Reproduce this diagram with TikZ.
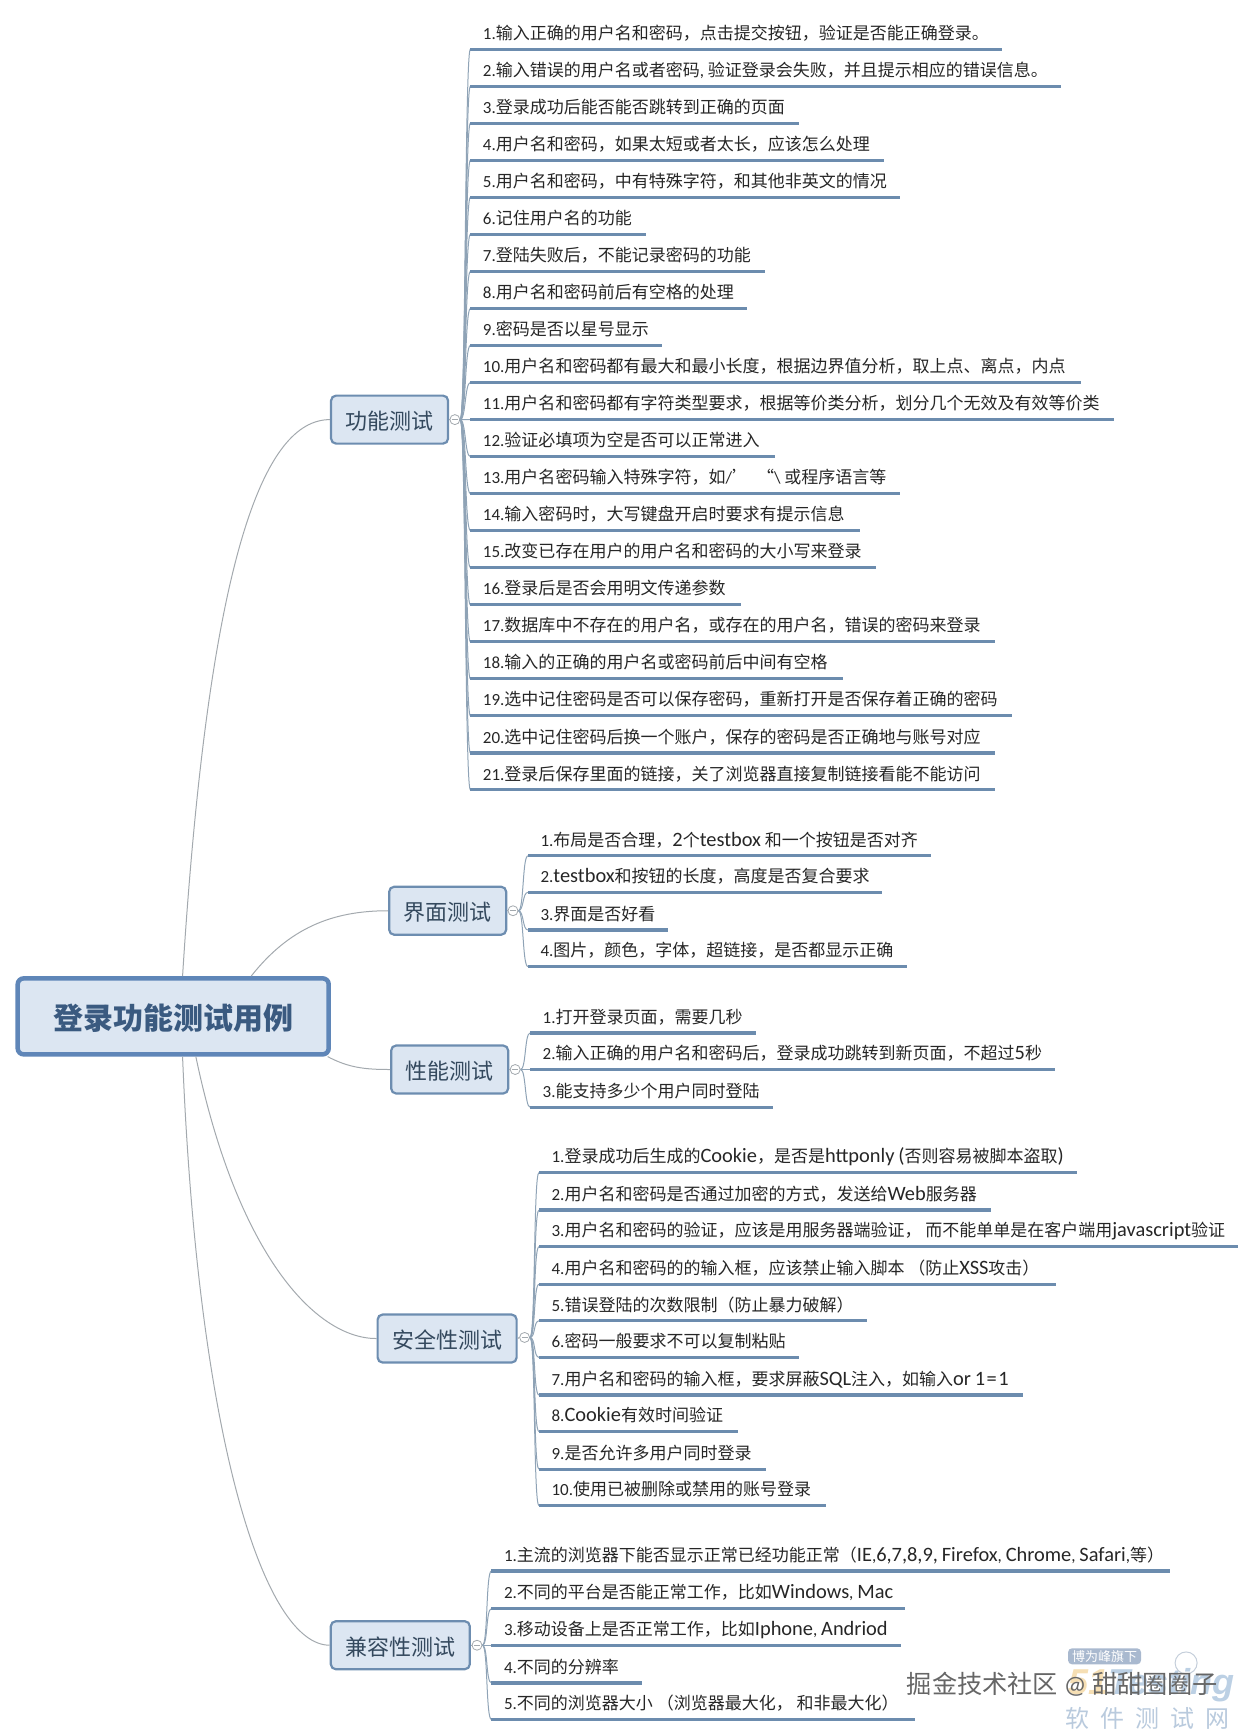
\documentclass[tikz,border=0pt]{standalone}
\usepackage{fontspec}
\setmainfont{Carlito}
\newfontfamily\cjkf{Noto Sans CJK SC}
\newfontfamily\latf{Carlito}
\newfontfamily\letf[Scale=1.2]{Carlito}
\newfontfamily\logof{Liberation Sans}
\XeTeXinterchartokenstate=1
\newXeTeXintercharclass\cjkclass
\newXeTeXintercharclass\letclass
\newcount\cc
\def\setcls#1#2#3{\cc=#1 \loop\XeTeXcharclass\cc=#3 \advance\cc 1 \ifnum\cc<#2 \repeat}
\setcls{"3000}{"3040}{\cjkclass}
\setcls{"4E00}{"A000}{\cjkclass}
\setcls{"FF00}{"FFF0}{\cjkclass}
\setcls{"2018}{"201E}{\cjkclass}
\setcls{"41}{"5B}{\letclass}
\setcls{"61}{"7B}{\letclass}
\XeTeXinterchartoks 0 \cjkclass={\cjkf}
\XeTeXinterchartoks 4095 \cjkclass={\cjkf}
\XeTeXinterchartoks \cjkclass 0={\latf}
\XeTeXinterchartoks \cjkclass 4095={\latf}
\XeTeXinterchartoks 0 \letclass={\letf}
\XeTeXinterchartoks 4095 \letclass={\letf}
\XeTeXinterchartoks \cjkclass \letclass={\letf}
\XeTeXinterchartoks \letclass 0={\latf}
\XeTeXinterchartoks \letclass \cjkclass={\cjkf}
\XeTeXinterchartoks \letclass 4095={\latf}
\usetikzlibrary{calc}
\definecolor{ulinec}{HTML}{6C8CAE}
\definecolor{boxfill}{HTML}{DCE6F2}
\definecolor{boxedge}{HTML}{6D8DB0}
\definecolor{rootedge}{HTML}{5F86B8}
\definecolor{roottext}{HTML}{3A5A80}
\definecolor{topictext}{HTML}{34495E}
\definecolor{conn}{HTML}{A3A9AE}
\definecolor{trunk}{HTML}{8FA3B6}
\definecolor{leaftext}{HTML}{262626}
\definecolor{wbadgec}{HTML}{A9B9CF}
\definecolor{wcircc}{HTML}{C4CEDA}
\definecolor{wnetc}{HTML}{B9CADD}
\definecolor{wmarkc}{HTML}{666666}
\newcommand{\dn}[2]{\raisebox{-#1}[\height][\depth]{#2}}
\newcommand{\bigd}[1]{{\letf #1}}
\tikzset{
  rootbox/.style={draw=rootedge,fill=boxfill,line width=4.5pt,rounded corners=6pt,inner sep=0pt,
    minimum width=311pt,minimum height=76pt,text=roottext,font=\fontsize{30}{34}\selectfont\bfseries},
  topicbox/.style={draw=boxedge,fill=boxfill,line width=2.2pt,rounded corners=5pt,inner sep=0pt,
    minimum height=48pt,text=topictext,font=\fontsize{22}{26}\selectfont},
  hubdot/.style={circle,draw=conn,line width=.8pt,fill=white,minimum size=10pt,inner sep=0pt,
    path picture={\draw[conn,line width=.8pt] ($(path picture bounding box.west)+(2pt,0)$)--($(path picture bounding box.east)+(-2pt,0)$);}},
  leafnode/.style={inner sep=0pt,text height=20pt,text depth=9.6pt,text=leaftext,anchor=south west,
    font=\fontsize{17}{20}\selectfont},
  uline/.style={ulinec,line width=3.3pt},
  branchline/.style={trunk,line width=1pt},
  rootline/.style={conn,line width=1pt},
}
\def\curhub{}\def\sx{0}
\newcommand{\leafitem}[4]{%
  \pgfmathsetlengthmacro{\lw}{(#2-\sx)*1.1067}%
  \node[leafnode] (#1) at (\sx,#3) {\makebox[\lw][l]{\hspace*{12.4pt}#4}};
  \draw[branchline] (\curhub.east) .. controls +(5,0) and +(-5,0) .. (#1.south west);
  \draw[uline] (#1.south west) -- (#1.south east);
}
\begin{document}
\begin{tikzpicture}[x=1.1067pt,y=-1.1071pt]
\useasboundingbox (0,0) rectangle (1134,1568);
% root
\node[rootbox] (root) at (156.5,918) {\dn{2pt}{登录功能测试用例}};
% topics
\node[topicbox,minimum width=117pt] (t1) at (352,379) {\dn{1.5pt}{功能测试}};
\node[topicbox,minimum width=117pt] (t2) at (404.5,822.6) {\dn{1.5pt}{界面测试}};
\node[topicbox,minimum width=117pt] (t3) at (406.3,966) {\dn{1.5pt}{性能测试}};
\node[topicbox,minimum width=139pt] (t4) at (404,1209) {\dn{1.5pt}{安全性测试}};
\node[topicbox,minimum width=139pt] (t5) at (361.7,1486) {\dn{1.5pt}{兼容性测试}};
% hubs
\node[hubdot] (h1) at (411,379) {};
\node[hubdot] (h2) at (463.5,822.6) {};
\node[hubdot] (h3) at (465.5,966) {};
\node[hubdot] (h4) at (474,1208) {};
\node[hubdot] (h5) at (431,1486) {};
\foreach \i in {1,...,5}{\draw[rootline] (t\i.east) -- (h\i.west);}
% root connectors
\coordinate (r1) at ($(root.north west)+(151,0)$);
\coordinate (r2) at ($(root.north west)+(213,0)$);
\coordinate (r3) at ($(root.south east)+(-3,0)$);
\coordinate (r4) at ($(root.south west)+(163,0)$);
\coordinate (r5) at ($(root.south west)+(151,0)$);
\draw[rootline] (r1) .. controls +(24,-383) and +(-59,0) .. (t1.west);
\draw[rootline] (r2) .. controls +(34,-43) and +(-51,0) .. (t2.west);
\draw[rootline] (r3) .. controls +(19,10) and +(-23,0) .. (t3.west);
\draw[rootline] (r4) .. controls +(37,177) and +(-56,0) .. (t4.west);
\draw[rootline] (r5) .. controls +(14,347) and +(-59,0) .. (t5.west);
% group 1
\def\curhub{h1}\def\sx{425}
\leafitem{a1}{905}{44.4}{1.输入正确的用户名和密码，点击提交按钮，验证是否能正确登录。}
\leafitem{a2}{958}{77.9}{2.输入错误的用户名或者密码, 验证登录会失败，并且提示相应的错误信息。}
\leafitem{a3}{722}{111.3}{3.登录成功后能否能否跳转到正确的页面}
\leafitem{a4}{798}{144.8}{4.用户名和密码，如果太短或者太长，应该怎么处理}
\leafitem{a5}{813}{178.2}{5.用户名和密码，中有特殊字符，和其他非英文的情况}
\leafitem{a6}{583}{211.7}{6.记住用户名的功能}
\leafitem{a7}{691}{245.1}{7.登陆失败后，不能记录密码的功能}
\leafitem{a8}{675}{278.6}{8.用户名和密码前后有空格的处理}
\leafitem{a9}{598}{312}{9.密码是否以星号显示}
\leafitem{a10}{976}{345.5}{10.用户名和密码都有最大和最小长度，根据边界值分析，取上点、离点，内点}
\leafitem{a11}{1006}{378.9}{11.用户名和密码都有字符类型要求，根据等价类分析，划分几个无效及有效等价类}
\leafitem{a12}{700}{412.4}{12.验证必填项为空是否可以正常进入}
\leafitem{a13}{813}{445.8}{13.用户名密码输入特殊字符，如/’\hspace{8pt}“\textbackslash{} 或程序语言等}
\leafitem{a14}{777}{479.3}{14.输入密码时，大写键盘开启时要求有提示信息}
\leafitem{a15}{791}{512.7}{15.改变已存在用户的用户名和密码的大小写来登录}
\leafitem{a16}{669}{546.2}{16.登录后是否会用明文传递参数}
\leafitem{a17}{899}{579.6}{17.数据库中不存在的用户名，或存在的用户名，错误的密码来登录}
\leafitem{a18}{761}{613.1}{18.输入的正确的用户名或密码前后中间有空格}
\leafitem{a19}{914}{646.5}{19.选中记住密码是否可以保存密码，重新打开是否保存着正确的密码}
\leafitem{a20}{899}{680}{20.选中记住密码后换一个账户，保存的密码是否正确地与账号对应}
\leafitem{a21}{899}{713.4}{21.登录后保存里面的链接，关了浏览器直接复制链接看能不能访问}
% group 2
\def\curhub{h2}\def\sx{477}
\leafitem{b1}{841}{773}{1.布局是否合理，\bigd{2}个testbox 和一个按钮是否对齐}
\leafitem{b2}{797}{806}{2.testbox和按钮的长度，高度是否复合要求}
\leafitem{b3}{603}{840}{3.界面是否好看}
\leafitem{b4}{819}{873}{4.图片，颜色，字体，超链接，是否都显示正确}
% group 3
\def\curhub{h3}\def\sx{479}
\leafitem{c1}{683}{933}{1.打开登录页面，需要几秒}
\leafitem{c2}{953}{966}{2.输入正确的用户名和密码后，登录成功跳转到新页面，不超过\bigd{5}秒}
\leafitem{c3}{698}{1000}{3.能支持多少个用户同时登陆}
% group 4
\def\curhub{h4}\def\sx{487}
\leafitem{d1}{973}{1059}{1.登录成功后生成的Cookie，是否是httponly \bigd{(}否则容易被脚本盗取\bigd{)}}
\leafitem{d2}{895}{1093}{2.用户名和密码是否通过加密的方式，发送给Web服务器}
\leafitem{d3}{1118}{1126}{3.用户名和密码的验证，应该是用服务器端验证， 而不能单单是在客户端用javascript验证}
\leafitem{d4}{954}{1160}{4.用户名和密码的的输入框，应该禁止输入脚本 （防止XSS攻击）}
\leafitem{d5}{783}{1193}{5.错误登陆的次数限制（防止暴力破解）}
\leafitem{d6}{722}{1226}{6.密码一般要求不可以复制粘贴}
\leafitem{d7}{924}{1260}{7.用户名和密码的输入框，要求屏蔽SQL注入，如输入or \bigd{1\hspace{1.5pt}=\hspace{1.5pt}1}}
\leafitem{d8}{666}{1293}{8.Cookie有效时间验证}
\leafitem{d9}{692}{1327}{9.是否允许多用户同时登录}
\leafitem{d10}{746}{1360}{10.使用已被删除或禁用的账号登录}
% group 5
\def\curhub{h5}\def\sx{444}
\leafitem{e1}{1057}{1419}{1.主流的浏览器下能否显示正常已经功能正常（IE,\bigd{6,7,8,9,} Firefox, Chrome, Safari,等）}
\leafitem{e2}{817}{1453}{2.不同的平台是否能正常工作，比如Windows, Mac}
\leafitem{e3}{814}{1486}{3.移动设备上是否正常工作，比如Iphone, Andriod}
\leafitem{e4}{580}{1520}{4.不同的分辨率}
\leafitem{e5}{826}{1553}{5.不同的浏览器大小 （浏览器最大化， 和非最大化）}
% watermark
\node[inner sep=0pt,anchor=west,font=\fontsize{36}{40}\selectfont\logof\bfseries\itshape] (wlogo) at (965,1522)
  {\XeTeXinterchartokenstate=0 \textcolor[HTML]{F6DFB4}{51}\textcolor[HTML]{BCD0E4}{Testing}};
\node[fill=wbadgec,rounded corners=4pt,inner xsep=4pt,inner ysep=2pt,text=white,font=\fontsize{13}{15}\selectfont] (wbadge) at (998,1496) {博为峰旗下};
\node[circle,draw=wcircc,line width=1pt,minimum size=22pt,inner sep=0pt] (wcirc) at (1071.7,1502) {};
\node[inner sep=0pt,text=wnetc,font=\fontsize{24}{26}\selectfont] (wnet) at (1037,1552)
  {软\hspace{11pt}件\hspace{11pt}测\hspace{11pt}试\hspace{11pt}网};
\node[inner sep=0pt,text=wmarkc,font=\fontsize{25.2}{27}\selectfont] (wmark) at (960,1521) {掘金技术社区 @ 甜甜圈圈子};
\end{tikzpicture}
\end{document}
